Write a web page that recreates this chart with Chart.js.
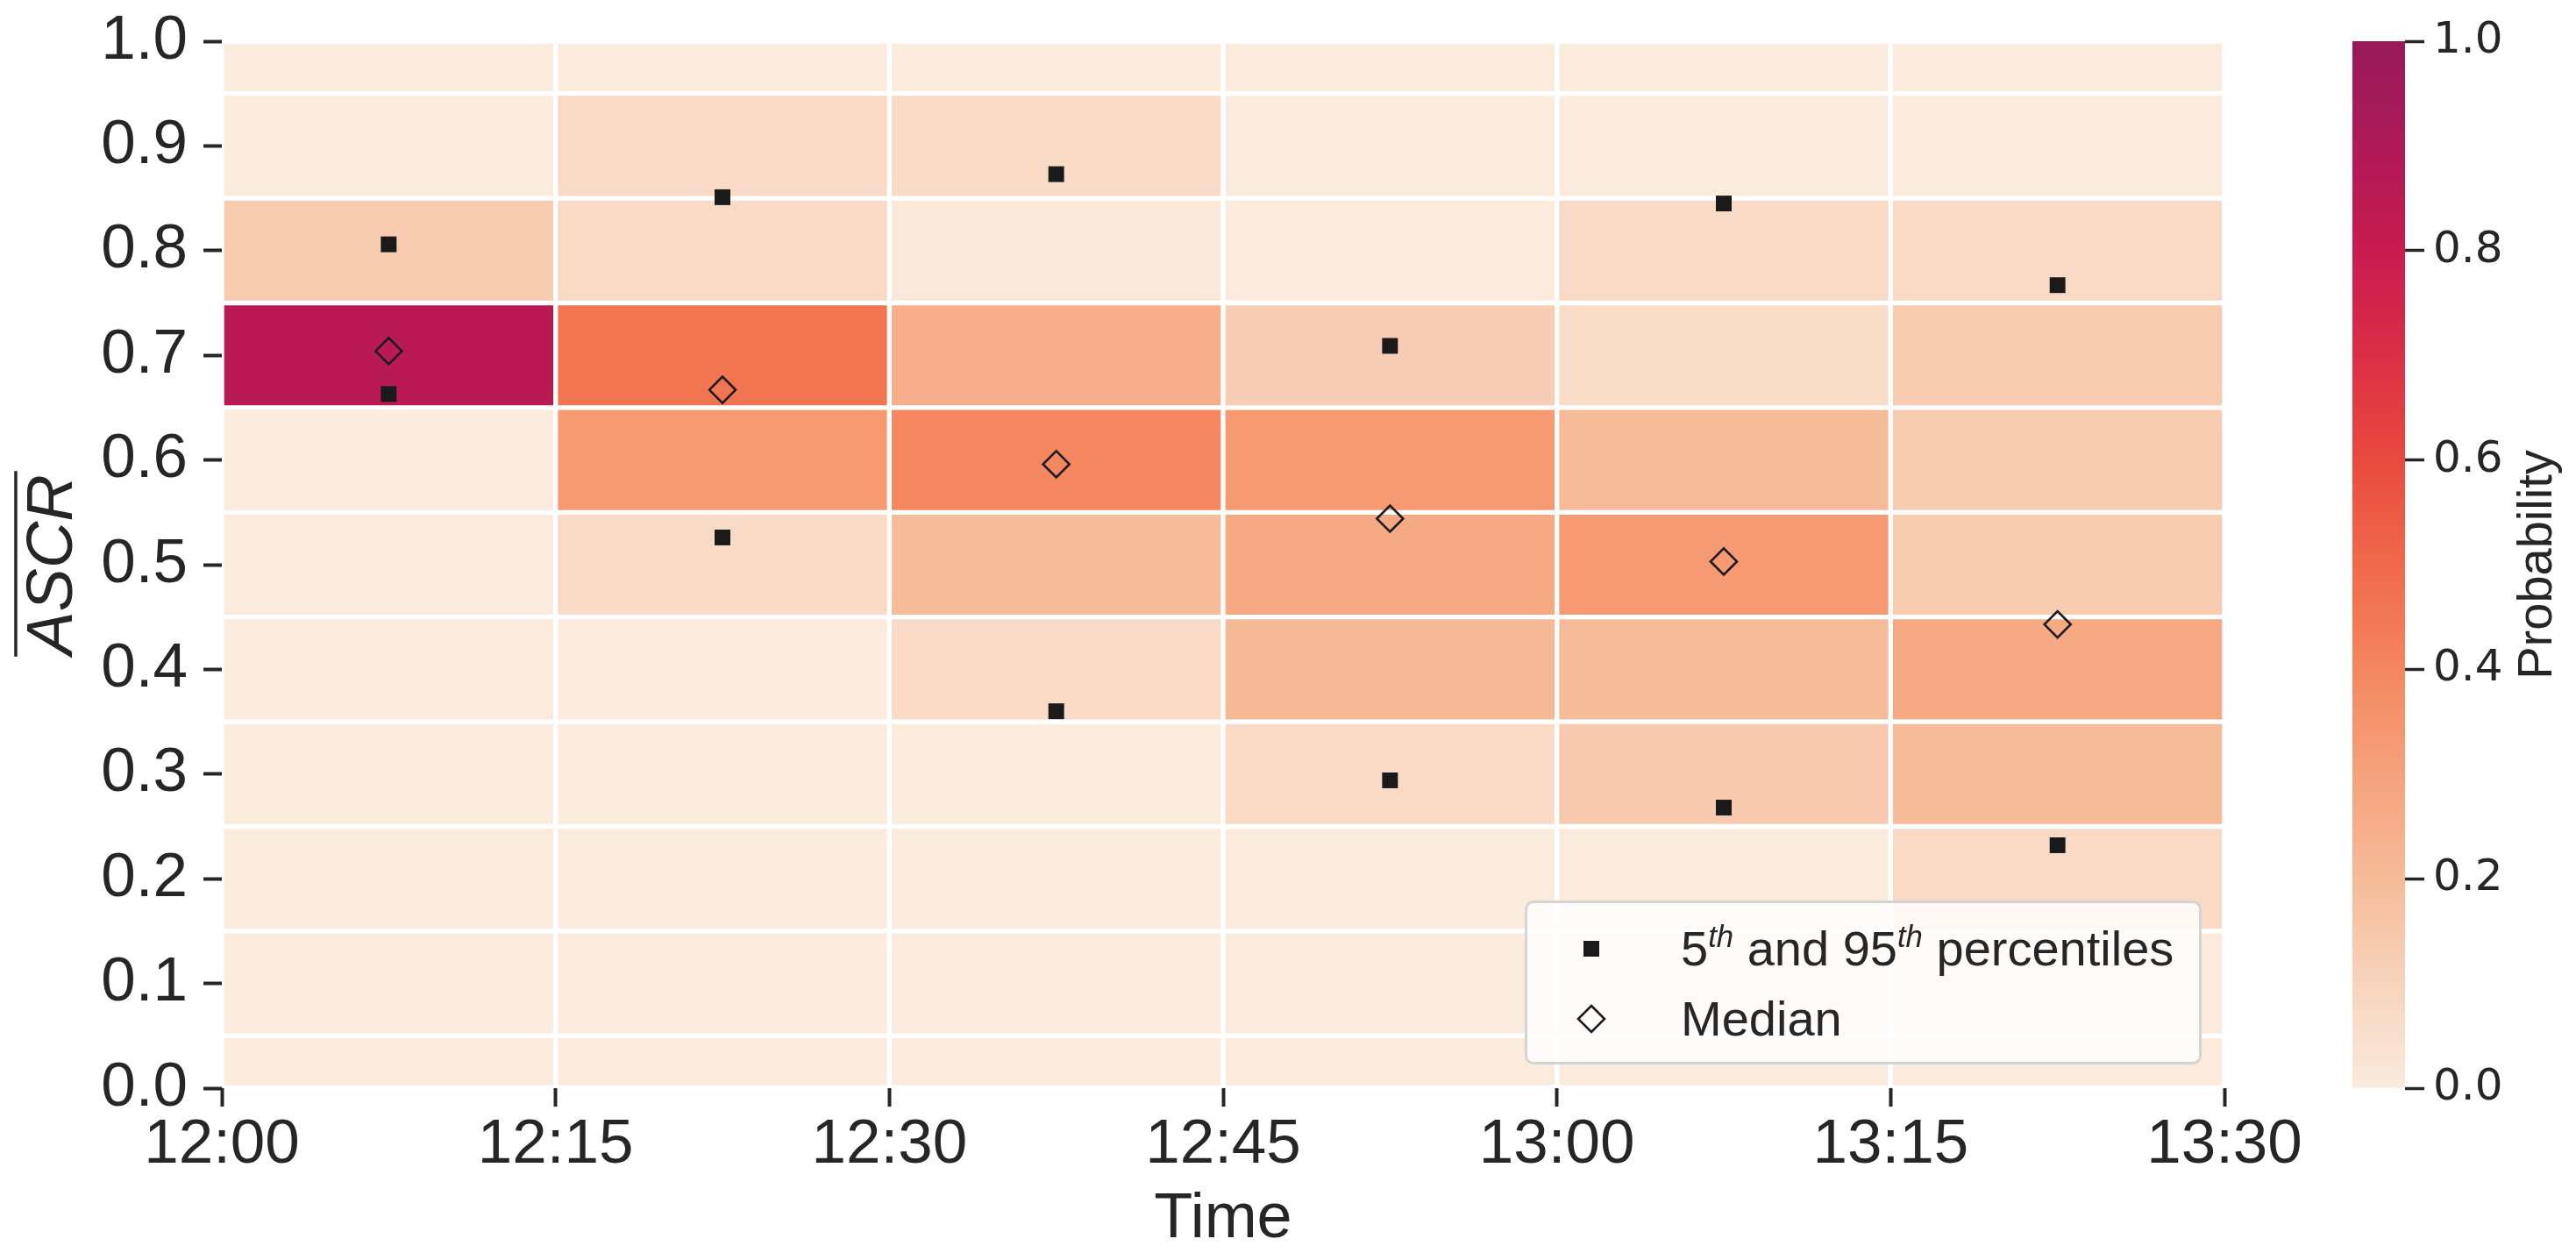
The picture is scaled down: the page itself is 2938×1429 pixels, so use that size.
<!DOCTYPE html>
<html>
<head>
<meta charset="utf-8">
<title>ASCR probability by time</title>
<script src="https://cdn.jsdelivr.net/npm/chart.js@4.4.1/dist/chart.umd.min.js"></script>
<style>
  html, body { margin: 0; padding: 0; background: #fff; overflow: hidden; }
  #wrap { position: relative; width: 2938px; height: 1429px; }
  #main { position: absolute; left: 0; top: 0; }
  #cbar { position: absolute; left: 2600px; top: 0; }
  #legend {
    position: absolute; box-sizing: border-box; width: 772px; height: 187px;
    border: 3px solid #d4d4d4; border-radius: 10px; background: rgba(255, 255, 255, 0.8);
    font-family: 'Liberation Sans', Arial, sans-serif; font-size: 56px; color: #262626;
  }
  #legend .item { position: absolute; left: 0; right: 0; height: 80px; line-height: 80px; white-space: nowrap; }
  #legend svg { position: absolute; left: 53px; top: 20px; }
  #legend .txt { position: absolute; left: 175px; top: 0; }
  #legend sup { font-size: 0.62em; line-height: 0; vertical-align: 21px; font-style: italic; }
</style>
</head>
<body>
<div id="wrap">
  <canvas id="main" width="2938" height="1429"></canvas>
  <canvas id="cbar" width="338" height="1429"></canvas>
  <div id="legend"></div>
</div>
<script>
// time bins (minutes after 12:00), 15 min wide
const binLabels = ['12:00', '12:15', '12:30', '12:45', '13:00', '13:15'];
const binMid = [7.5, 22.5, 37.5, 52.5, 67.5, 82.5];
const xTickLabels = ['12:00', '12:15', '12:30', '12:45', '13:00', '13:15', '13:30'];

// ASCR levels (rows of the heat map)
const ascrLevels = [0.0, 0.1, 0.2, 0.3, 0.4, 0.5, 0.6, 0.7, 0.8, 0.9, 1.0];

// probability per level, one array per time bin (order = ascrLevels)
const p1200 = [0, 0, 0, 0, 0, 0, 0, 0.86, 0.13, 0, 0];
const p1215 = [0, 0, 0, 0, 0, 0.07, 0.33, 0.46, 0.07, 0.07, 0];
const p1230 = [0, 0, 0, 0, 0.07, 0.20, 0.40, 0.25, 0.01, 0.07, 0];
const p1245 = [0, 0, 0, 0.07, 0.21, 0.27, 0.33, 0.12, 0, 0, 0];
const p1300 = [0, 0, 0, 0.14, 0.20, 0.33, 0.20, 0.06, 0.07, 0, 0];
const p1315 = [0, 0, 0.07, 0.20, 0.27, 0.13, 0.13, 0.13, 0.07, 0, 0];
const probByBin = [p1200, p1215, p1230, p1245, p1300, p1315];

// percentiles and median per time bin
const pct5 = [0.663, 0.526, 0.360, 0.294, 0.268, 0.232];
const pct95 = [0.806, 0.851, 0.873, 0.709, 0.845, 0.767];
const median = [0.704, 0.667, 0.596, 0.544, 0.503, 0.443];

const yTicks = [0, 0.1, 0.2, 0.3, 0.4, 0.5, 0.6, 0.7, 0.8, 0.9, 1.0];
const cbarTicks = [0, 0.2, 0.4, 0.6, 0.8, 1.0];

// truncated rocket_r colour map
const cmapStops = ['#FAEBDD', '#F7D3BC', '#F6BB98', '#F5A27C', '#F4875F', '#F0694A',
                   '#E94A3E', '#DA2F45', '#C81B4F', '#AF1A58', '#961A5A'];

const hexRgb = h => [1, 3, 5].map(i => parseInt(h.slice(i, i + 2), 16));
function cmap(p) {
  const t = Math.min(Math.max(p, 0), 1) * (cmapStops.length - 1);
  const i = Math.min(Math.floor(t), cmapStops.length - 2);
  const f = t - i;
  const a = hexRgb(cmapStops[i]), b = hexRgb(cmapStops[i + 1]);
  const c = a.map((v, k) => Math.round(v + (b[k] - v) * f));
  return `rgb(${c[0]},${c[1]},${c[2]})`;
}

const ink = '#262626';
const sans = "'Liberation Sans', Arial, sans-serif";

// one floating-bar dataset per ASCR level
const cellSets = ascrLevels.map((lvl, r) => ({
  type: 'bar',
  label: 'level ' + lvl,
  xAxisID: 'xc',
  yAxisID: 'y',
  data: probByBin.map(() => [Math.max(0, lvl - 0.05), Math.min(1, lvl + 0.05)]),
  backgroundColor: probByBin.map(col => cmap(col[r])),
  borderColor: '#ffffff',
  borderWidth: 3,
  borderSkipped: false,
  grouped: false,
  barPercentage: 1,
  categoryPercentage: 1,
  order: 2
}));

const markerSets = [
  {
    type: 'scatter',
    label: '5th and 95th percentiles',
    xAxisID: 'x',
    yAxisID: 'y',
    data: binMid.map((m, i) => ({x: m, y: pct95[i]})).concat(binMid.map((m, i) => ({x: m, y: pct5[i]}))),
    pointStyle: 'rect',
    pointRadius: 12.7,
    backgroundColor: '#1a1a1a',
    borderColor: '#1a1a1a',
    borderWidth: 0,
    order: 0
  },
  {
    type: 'scatter',
    label: 'Median',
    xAxisID: 'x',
    yAxisID: 'y',
    data: binMid.map((m, i) => ({x: m, y: median[i]})),
    pointStyle: 'rectRot',
    pointRadius: 15,
    backgroundColor: 'rgba(0,0,0,0)',
    borderColor: '#1a1a1a',
    borderWidth: 2.6,
    order: 0
  }
];

// overline over the y title (ASCR bar)
const overline = {
  id: 'overline',
  afterDraw(chart) {
    const s = chart.scales.y;
    const t = s.options.title;
    const ctx = chart.ctx;
    const lh = t.font.size * 1.2;
    ctx.save();
    ctx.font = `italic ${t.font.size}px ${sans}`;
    ctx.textBaseline = 'middle';
    const m = ctx.measureText(t.text);
    const x = s.left + lh / 2 + t.padding.top - m.actualBoundingBoxAscent - 11;
    const yMid = (s.top + s.bottom) / 2;
    ctx.strokeStyle = ink;
    ctx.lineWidth = 3.5;
    ctx.beginPath();
    ctx.moveTo(x, yMid - m.width / 2 - 4);
    ctx.lineTo(x, yMid + m.width / 2 + 2);
    ctx.stroke();
    ctx.restore();
  }
};

// html legend inside the plot, built from the marker datasets
const htmlLegend = {
  id: 'htmlLegend',
  afterRender(chart) {
    const box = document.getElementById('legend');
    const area = chart.chartArea;
    box.style.left = (area.right - 26 - 772) + 'px';
    box.style.top = (area.bottom - 27 - 187) + 'px';
    if (box.childElementCount) return;
    chart.data.datasets.filter(d => d.type === 'scatter').forEach((d, i) => {
      const row = document.createElement('div');
      row.className = 'item';
      row.style.top = (12 + 80 * i) + 'px';
      const mark = d.pointStyle === 'rect'
        ? '<rect x="11" y="11" width="18" height="18" fill="#1a1a1a"/>'
        : '<polygon points="20,5 35,20 20,35 5,20" fill="none" stroke="#1a1a1a" stroke-width="2.6"/>';
      row.innerHTML = `<svg width="40" height="40">${mark}</svg>` +
        `<span class="txt">${d.label.replace(/(\d)th/g, '$1<sup>th</sup>')}</span>`;
      box.appendChild(row);
    });
  }
};

new Chart(document.getElementById('main'), {
  type: 'bar',
  data: { labels: binLabels, datasets: cellSets.concat(markerSets) },
  options: {
    responsive: false,
    animation: false,
    events: [],
    layout: { padding: { top: 47, right: 401, left: 0, bottom: 0 } },
    plugins: { legend: { display: false }, tooltip: { enabled: false } },
    scales: {
      xc: { type: 'category', labels: binLabels, offset: true, display: false },
      x: {
        type: 'linear', position: 'bottom', min: 0, max: 90, offset: false,
        afterBuildTicks: s => { s.ticks = xTickLabels.map((_, i) => ({ value: i * 15 })); },
        afterFit: s => { s.height = 188; s.paddingLeft = 0; s.paddingRight = 0; },
        border: { display: false },
        grid: { offset: false, drawOnChartArea: false, drawTicks: true, tickLength: 21, tickWidth: 4, tickColor: ink },
        ticks: { callback: v => xTickLabels[Math.round(v / 15)], color: ink, padding: 2, maxRotation: 0,
                 autoSkip: false, font: { family: sans, size: 71 } },
        title: { display: true, text: 'Time', color: ink, padding: { top: 0, bottom: -5 },
                 font: { family: sans, size: 72 } }
      },
      y: {
        type: 'linear', min: 0, max: 1,
        afterBuildTicks: s => { s.ticks = yTicks.map(v => ({ value: v })); },
        afterFit: s => { s.width = 253; s.paddingTop = 0; s.paddingBottom = 0; },
        border: { display: false },
        grid: { drawOnChartArea: false, drawTicks: true, tickLength: 21, tickWidth: 4, tickColor: ink },
        ticks: { callback: v => v.toFixed(1), color: ink, padding: 18, font: { family: sans, size: 71 } },
        title: { display: true, text: 'ASCR', color: ink, padding: { top: 17, bottom: 0 },
                 font: { family: sans, size: 74, style: 'italic' } }
      }
    }
  },
  plugins: [overline, htmlLegend]
});

// colour bar
const cbarLabel = {
  id: 'cbarLabel',
  afterDraw(chart) {
    const s = chart.scales.y;
    const ctx = chart.ctx;
    ctx.save();
    ctx.translate(s.right - 43, (s.top + s.bottom) / 2);
    ctx.rotate(-Math.PI / 2);
    ctx.font = `56px ${sans}`;
    ctx.fillStyle = ink;
    ctx.textAlign = 'center';
    ctx.textBaseline = 'middle';
    ctx.fillText('Probability', 0, 0);
    ctx.restore();
  }
};

new Chart(document.getElementById('cbar'), {
  type: 'bar',
  data: {
    labels: ['p'],
    datasets: [{
      data: [[0, 1]],
      backgroundColor: c => {
        const area = c.chart.chartArea;
        if (!area) return cmapStops[0];
        const g = c.chart.ctx.createLinearGradient(0, area.bottom, 0, area.top);
        cmapStops.forEach((col, i) => g.addColorStop(i / (cmapStops.length - 1), col));
        return g;
      },
      borderWidth: 0,
      barPercentage: 1,
      categoryPercentage: 1
    }]
  },
  options: {
    responsive: false,
    animation: false,
    events: [],
    layout: { padding: { top: 47, right: 0, left: 83, bottom: 188 } },
    plugins: { legend: { display: false }, tooltip: { enabled: false } },
    scales: {
      x: { type: 'category', offset: true, display: false },
      y: {
        position: 'right', min: 0, max: 1,
        afterBuildTicks: s => { s.ticks = cbarTicks.map(v => ({ value: v })); },
        afterFit: s => { s.width = 195; s.paddingTop = 0; s.paddingBottom = 0; },
        border: { display: false },
        grid: { drawOnChartArea: false, drawTicks: true, tickLength: 22, tickWidth: 3.5, tickColor: ink },
        ticks: { callback: v => v.toFixed(1), color: ink, padding: 10,
                 font: { family: "'DejaVu Sans', sans-serif", size: 50 } }
      }
    }
  },
  plugins: [cbarLabel]
});
</script>
</body>
</html>
